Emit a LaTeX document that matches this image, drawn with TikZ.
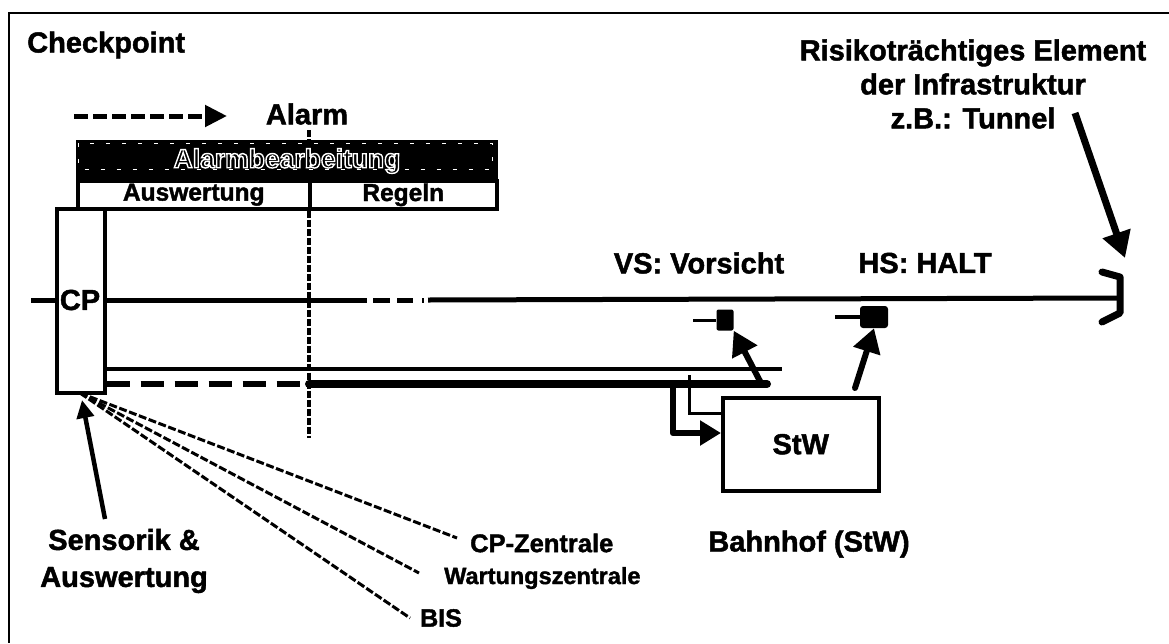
\documentclass[tikz,border=0pt]{standalone}
\usepackage{fontspec}
\setmainfont{Liberation Sans}[BoldFeatures={FakeBold=1.6}]
\newfontfamily\headfont{Liberation Sans Bold}
\usetikzlibrary{arrows.meta}
\newcommand{\outlinedtext}[1]{\special{pdf:code q 1 Tr 1 1 1 RG 1.4 w}#1\special{pdf:code Q}}
\tikzset{
  x=1pt,y=-1pt,
  lbl/.style={font=\fontsize{29}{34}\selectfont\bfseries,inner sep=0pt,text=black,align=center},
  rowlbl/.style={font=\fontsize{24.5}{28}\selectfont\bfseries},
  boxed/.style={draw=black,line width=3.5pt,fill=white,inner sep=0pt},
  bigarrow/.style={line width=6pt,line cap=round,-{Triangle[length=24pt,width=27pt]}},
  linkdash/.style={line width=3pt,dash pattern=on 8pt off 2.5pt},
  divdash/.style={line width=3.5pt,dash pattern=on 7pt off 2pt},
}
\begin{document}
\begin{tikzpicture}
\useasboundingbox (0,0) rectangle (1169,643);
% frame: only the top and left edges are visible
\coordinate (frameTR) at (1169,13);
\coordinate (frameTL) at (9,13);
\coordinate (frameBL) at (9,643);
\draw[line width=2pt] (frameTR) -- (frameTL) -- (frameBL);
% alarm legend
\coordinate (legA) at (74,116);
\coordinate (legB) at (227,116);
\draw[line width=5pt,dash pattern=on 14pt off 5pt,-{Triangle[length=22pt,width=21pt]}] (legA) -- (legB);
\node[lbl] (alarm) at (307,114) {Alarm};
% alarm divider upper and lower part
\coordinate (divT) at (309,130);
\coordinate (divB) at (309,438);
% track
\coordinate (trackL) at (31,300);
\coordinate (trackR) at (1117,298);
\draw[line width=5pt] (trackL) -- (367,300);
\draw[line width=5pt,dash pattern=on 17pt off 7pt on 16pt off 9pt on 2pt off 6pt] (373,300) -- (428,300);
\draw[line width=5pt] (428,300) -- (trackR);
\draw[line width=7pt,line cap=round,line join=round] (1102,272) -- (1120,277) -- (1120,313) -- (1102,322);
% CP box
\node[boxed,minimum width=48pt,minimum height=184pt,anchor=north west] (cp) at (55,207) {};
\node[lbl] (cplabel) at (80,300) {CP};
% Alarmbearbeitung
\node[draw=black,line width=3pt,fill=black,minimum width=419pt,minimum height=39pt,anchor=north west,inner sep=0pt,font=\fontsize{26.5}{30}\selectfont\headfont] (head) at (76,140) {\outlinedtext{Alarmbearbeitung}};
\draw[white,line width=0.5pt,dash pattern=on 4pt off 12pt] (78.5,143) rectangle (492,169);
\node[boxed,rowlbl,minimum width=232pt,minimum height=28pt,anchor=north west] (ausw) at (76,179) {Auswertung};
\node[boxed,rowlbl,minimum width=187pt,minimum height=28pt,anchor=north west] (regeln) at (308,179) {Regeln};
\draw[divdash] (divT) -- (divT |- head.north);
\draw[divdash] (divT |- ausw.south) -- (divB);
% lines from CP
\coordinate (thinR) at (782,369);
\coordinate (thickE) at (767,384);
\draw[line width=3.5pt] (cp.east |- thinR) -- (thinR);
\draw[line width=6.5pt,dash pattern=on 23pt off 11pt] (cp.east |- thickE) -- (304,384);
\draw[line width=8pt,line cap=round] (309,384) -- (thickE);
% StW
\node[draw=black,line width=3.5pt,fill=white,minimum width=156pt,minimum height=93pt,anchor=north west,inner sep=0pt,font=\fontsize{29}{34}\selectfont\bfseries] (stw) at (721,396) {StW};
\coordinate (thinT) at (689,375);
\draw[line width=3pt] (thinT) -- (689,413) -- (stw.west |- 0,413);
\coordinate (thickT) at (673,384);
\draw[line width=6.5pt,line join=round,-{Triangle[length=21pt,width=24pt]}] (thickT) -- (673,433) -- (stw.west |- 0,433);
% signals
\node[fill=black,rounded corners=2pt,minimum width=17pt,minimum height=21pt,inner sep=0pt] (vs) at (725,320) {};
\node[fill=black,rounded corners=3pt,minimum width=28pt,minimum height=22pt,inner sep=0pt] (hs) at (874,317) {};
\coordinate (vsL) at (693,320);
\coordinate (hsL) at (835,317);
\draw[line width=3pt] (vsL) -- (vs);
\draw[line width=4pt] (hsL) -- (hs);
\coordinate (vsTail) at (762,385);
\coordinate (hsTail) at (855,388);
\draw[bigarrow] (vsTail) -- (vs.south east);
\draw[bigarrow] (hsTail) -- (hs.south);
% labels
\node[lbl,anchor=west] (chk) at (27,45) {Checkpoint};
\node[lbl] (risk) at (973,84) {Risikoträchtiges Element\\der Infrastruktur\\z.B.: Tunnel};
\node[lbl] (vstxt) at (699,263) {VS: Vorsicht};
\node[lbl] (hstxt) at (925,263) {HS: HALT};
\node[lbl,font=\fontsize{29}{37}\selectfont\bfseries] (sens) at (124,561) {Sensorik \&\\Auswertung};
\node[lbl] (bhf) at (809,544) {Bahnhof (StW)};
\node[lbl,font=\fontsize{25.5}{30}\selectfont\bfseries,anchor=west] (cpz) at (470,543) {CP-Zentrale};
\node[lbl,font=\fontsize{23.5}{28}\selectfont\bfseries,anchor=west] (wart) at (444,578) {Wartungszentrale};
\node[lbl,font=\fontsize{25}{30}\selectfont\bfseries,anchor=west] (bis) at (420,618) {BIS};
% pointer arrows
\coordinate (sensT) at (105,519);
\coordinate (sensTip) at (82,400);
\draw[line width=4.5pt,-{Triangle[length=18pt,width=17pt]}] (sensT) -- (sensTip);
\coordinate (riskT) at (1075,113);
\coordinate (tunnelTip) at (1125,258);
\draw[line width=7pt,-{Triangle[length=26pt,width=28pt]}] (riskT) -- (tunnelTip);
% fan of lines
\coordinate (fan) at (80,393);
\coordinate (cpzE) at (457,538);
\coordinate (wartE) at (419,573);
\coordinate (bisE) at (410,618);
\draw[linkdash] (fan) -- (cpzE);
\draw[linkdash] (fan) -- (wartE);
\draw[linkdash] (fan) -- (bisE);
\end{tikzpicture}
\end{document}
